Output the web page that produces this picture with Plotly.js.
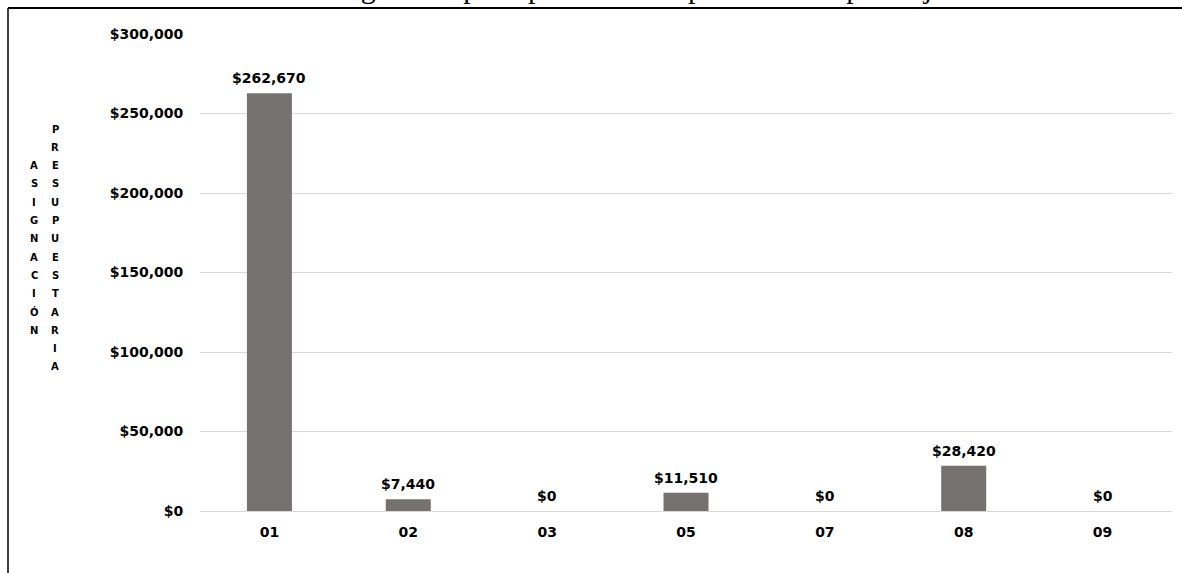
<!DOCTYPE html>
<html>
<head>
<meta charset="utf-8">
<script src="https://cdn.plot.ly/plotly-3.0.1.min.js"></script>
<style>html,body{margin:0;padding:0;background:#fff;}#chart{width:1182px;height:573px;}</style>
</head>
<body>
<div id="chart"></div>
<script>
const categories = ["01", "02", "03", "05", "07", "08", "09"];
const values = [262670, 7440, 0, 11510, 0, 28420, 0];
const yTickVals = [0, 50000, 100000, 150000, 200000, 250000, 300000];
const yTickText = ["$0", "$50,000", "$100,000", "$150,000", "$200,000", "$250,000", "$300,000"];
const titleText = "Asignación presupuestaria del presente año por objetivo";
const yTitleWord1 = "ASIGNACIÓN";
const yTitleWord2 = "PRESUPUESTARIA";

const W = 1182, H = 573;
const M = {l: 200, r: 10, t: 34, b: 62};
const pw = W - M.l - M.r, ph = H - M.t - M.b;
const px2x = p => (p - M.l) / pw;
const px2y = p => (H - M.b - p) / ph;

const fmt = v => "$" + v.toLocaleString("en-US");
const labelFont = {family: "DejaVu Sans", size: 14, color: "#000", weight: "bold"};

const annotations = categories.map((c, i) => ({
  x: i, y: values[i], xref: "x", yref: "y",
  text: "<b>" + fmt(values[i]) + "</b>",
  showarrow: false, yanchor: "bottom", yshift: 5,
  font: labelFont
}));

// stacked vertical letters of the y-axis title
const letterFont = {family: "DejaVu Sans", size: 10, color: "#000"};
const rowStep = 18.3, firstRow = 129;
yTitleWord2.split("").forEach((ch, k) => annotations.push({
  xref: "paper", yref: "paper", x: px2x(55), y: px2y(firstRow + k * rowStep),
  text: "<b>" + ch + "</b>", showarrow: false, xanchor: "center", yanchor: "middle", font: letterFont
}));
yTitleWord1.split("").forEach((ch, k) => annotations.push({
  xref: "paper", yref: "paper", x: px2x(34), y: px2y(firstRow + (k + 2) * rowStep),
  text: "<b>" + ch + "</b>", showarrow: false, xanchor: "center", yanchor: "middle", font: letterFont
}));

annotations.push({
  xref: "paper", yref: "paper", x: px2x(655), y: px2y(6),
  text: titleText, showarrow: false, xanchor: "center", yanchor: "bottom",
  font: {family: "Liberation Serif", size: 30, color: "#000"}
});

const trace = {
  type: "bar", x: categories, y: values,
  marker: {color: "#767171"},
  hoverinfo: "skip"
};

const layout = {
  width: W, height: H,
  margin: M,
  paper_bgcolor: "#fff", plot_bgcolor: "#fff",
  showlegend: false,
  bargap: 0.676,
  xaxis: {
    type: "category", range: [-0.5, categories.length - 0.5], autorange: false,
    showgrid: false, zeroline: false, showline: false,
    ticks: "outside", ticklen: 8, tickcolor: "rgba(0,0,0,0)",
    tickfont: labelFont
  },
  yaxis: {
    range: [0, 300000], autorange: false, tickvals: yTickVals, ticktext: yTickText,
    showgrid: true, gridcolor: "#d9d9d9", gridwidth: 1,
    zeroline: true, zerolinecolor: "#d9d9d9", zerolinewidth: 1,
    showline: false,
    ticks: "outside", ticklen: 13, tickcolor: "rgba(0,0,0,0)",
    tickfont: labelFont
  },
  annotations: annotations,
  shapes: [
    {type: "line", xref: "paper", yref: "paper", x0: px2x(8), x1: px2x(1190), y0: px2y(8), y1: px2y(8), line: {color: "#000", width: 2}},
    {type: "line", xref: "paper", yref: "paper", x0: px2x(8), x1: px2x(8), y0: px2y(8), y1: px2y(580), line: {color: "#000", width: 1.5}}
  ]
};

Plotly.newPlot("chart", [trace], layout, {displayModeBar: false, staticPlot: true});
</script>
</body>
</html>
